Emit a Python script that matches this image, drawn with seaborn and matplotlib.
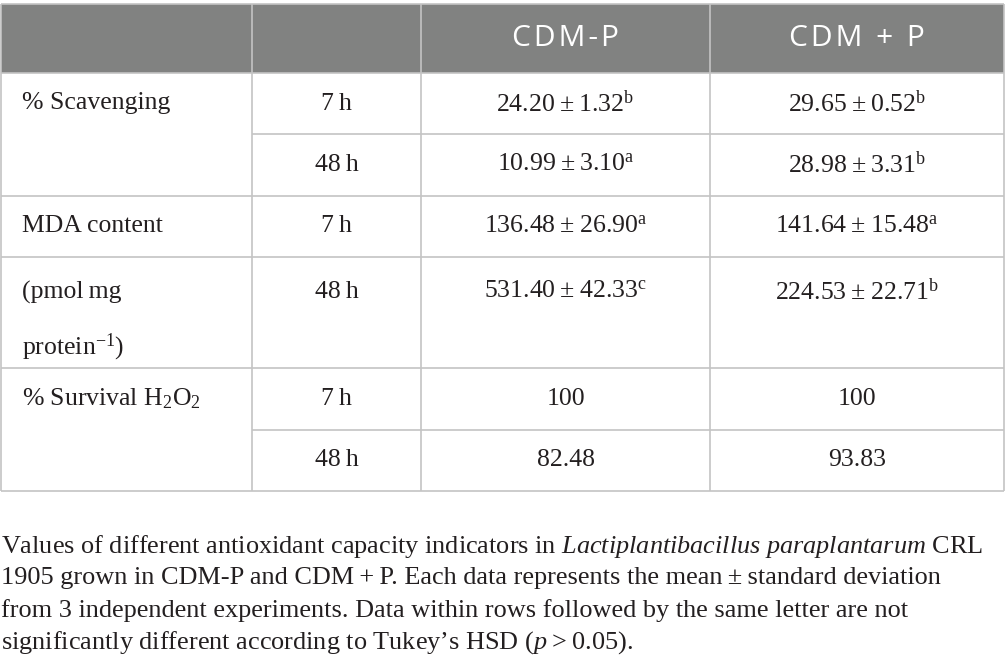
import matplotlib
matplotlib.use("Agg")
import matplotlib.pyplot as plt
import seaborn as sns

# table data
conditions = ["CDM-P", "CDM + P"]
indicator_lines = ["% Scavenging", "MDA content", "(pmol\u2009mg", "protein$^{\\mathregular{\u22121}}$)",
                   "% Survival H$_{\\mathregular{2}}$O$_{\\mathregular{2}}$"]
time_labels = ["7\u2009h", "48\u2009h", "7\u2009h", "48\u2009h", "7\u2009h", "48\u2009h"]
cdm_minus_mean = [24.20, 10.99, 136.48, 531.40, 100, 82.48]
cdm_minus_sd = [1.32, 3.10, 26.90, 42.33, None, None]
cdm_minus_letter = ["b", "a", "a", "c", None, None]
cdm_plus_mean = [29.65, 28.98, 141.64, 224.53, 100, 93.83]
cdm_plus_sd = [0.52, 3.31, 15.48, 22.71, None, None]
cdm_plus_letter = ["b", "b", "a", "b", None, None]

caption = [
    "Values of different antioxidant capacity indicators in "
    "$\\mathit{Lactiplantibacillus\\ paraplantarum}$ CRL",
    "1905 grown in CDM-P and CDM\u2009+\u2009P. Each data represents the mean\u2009\u00b1\u2009standard deviation",
    "from 3 independent experiments. Data within rows followed by the same letter are not",
    "significantly different according to Tukey\u2019s HSD ($\\mathit{p}$\u2009>\u20090.05).",
]

sns.set_theme(style="white")
plt.rcParams["font.family"] = ["Liberation Serif", "DejaVu Serif"]
plt.rcParams["mathtext.fontset"] = "custom"
plt.rcParams["mathtext.rm"] = "Liberation Serif"
plt.rcParams["mathtext.it"] = "Liberation Serif:italic"


def fmt(m, s, l):
    if s is None:
        return f"{m:g}"
    return f"{m:.2f}\u2009\u00b1\u2009{s:.2f}" + "$^{\\mathregular{" + l + "}}$"


def spaced(s):
    # header font in the reference is slightly tracked
    return "\u200a".join(s)


# layout (pixels)
col_x = [1, 252, 421, 710, 1004]
row_y = [4, 73, 134, 196, 257, 368, 430, 491]
grid_col = "#c4c4c4"
lw = 1.2
txt_col = "#231f20"

fig = plt.figure(figsize=(10.05, 6.56), dpi=100)
ax = fig.add_axes([0, 0, 1, 1])
ax.set_xlim(0, 1005)
ax.set_ylim(656, 0)
ax.axis("off")

# header band
ax.add_patch(plt.Rectangle((col_x[0], row_y[0]), col_x[-1] - col_x[0], row_y[1] - row_y[0],
                           facecolor="#818281", edgecolor="none"))
for i, c in enumerate(conditions):
    ax.text((col_x[i + 2] + col_x[i + 3]) / 2, 38, spaced(c), ha="center", va="center",
            color="white", fontsize=21.5, family=["Open Sans", "DejaVu Sans"])

# grid lines
for x in col_x:
    ax.plot([x, x], [row_y[0], row_y[-1]], color=grid_col, lw=lw, solid_capstyle="butt")
for k, y in enumerate(row_y):
    x0 = col_x[1] if k in (2, 6) else col_x[0]
    ax.plot([x0, col_x[-1]], [y, y], color=grid_col, lw=lw, solid_capstyle="butt")

# first column
fs = 18.5
first_pos = [(row_y[1] + row_y[2]) / 2, (row_y[3] + row_y[4]) / 2, 292, 347,
             (row_y[5] + row_y[6]) / 2]
for t, y in zip(indicator_lines, first_pos):
    ax.text(22, y, t, ha="left", va="center", fontsize=fs, color=txt_col)

# value columns
for r in range(6):
    if r == 3:
        y = 292
    else:
        y = (row_y[r + 1] + row_y[r + 2]) / 2
    ax.text((col_x[1] + col_x[2]) / 2, y, time_labels[r], ha="center", va="center",
            fontsize=fs, color=txt_col)
    ax.text((col_x[2] + col_x[3]) / 2, y,
            fmt(cdm_minus_mean[r], cdm_minus_sd[r], cdm_minus_letter[r]),
            ha="center", va="center", fontsize=fs, color=txt_col)
    ax.text((col_x[3] + col_x[4]) / 2, y,
            fmt(cdm_plus_mean[r], cdm_plus_sd[r], cdm_plus_letter[r]),
            ha="center", va="center", fontsize=fs, color=txt_col)

# caption
for i, line in enumerate(caption):
    ax.text(1, 546 + 32.3 * i, line, ha="left", va="center", fontsize=18.9, color=txt_col)

fig.savefig("out.png", dpi=100)
